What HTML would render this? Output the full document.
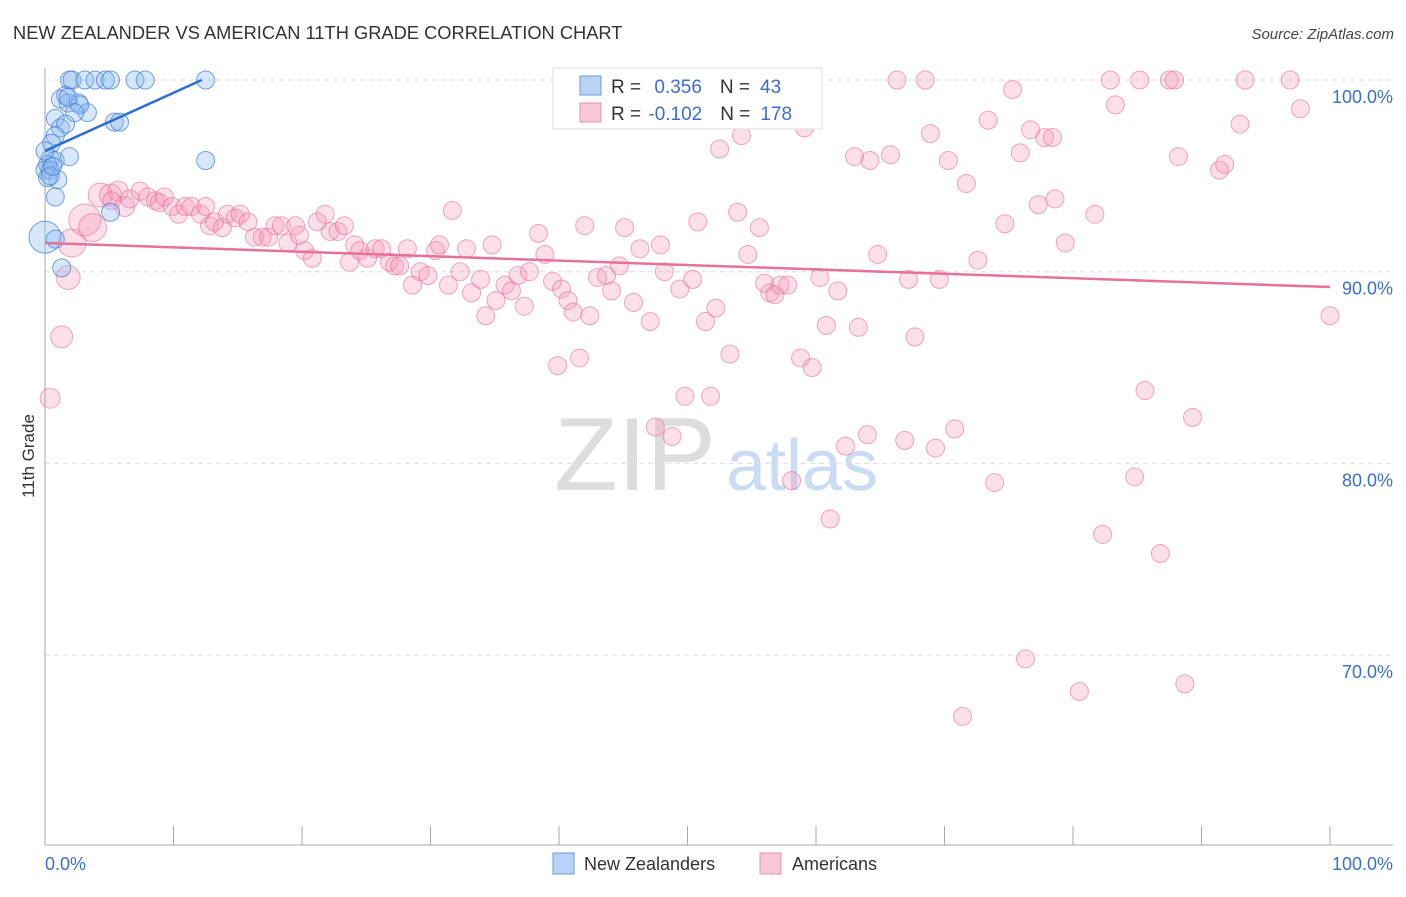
<!DOCTYPE html>
<html><head><meta charset="utf-8">
<style>
body{margin:0;background:#fff;font-family:"Liberation Sans",sans-serif;}
svg text{font-family:"Liberation Sans",sans-serif;}
</style></head>
<body>
<svg id="chart" width="1406" height="892">
<text x="13" y="39" font-size="18.3" fill="#333">NEW ZEALANDER VS AMERICAN 11TH GRADE CORRELATION CHART</text>
<text x="1394" y="39" font-size="15" fill="#444" font-style="italic" text-anchor="end">Source: ZipAtlas.com</text>
<text transform="translate(34,456) rotate(-90)" font-size="17" fill="#333" text-anchor="middle">11th Grade</text>
<g>
<text x="635" y="490" font-size="104" fill="#ddd" font-family="Liberation Serif,serif" text-anchor="middle">ZIP</text>
<text x="802" y="490" font-size="72" fill="#c9dcf3" text-anchor="middle">atlas</text>
</g>
<g id="grid"></g><g id="axes"></g><g id="pinkpts"></g><g id="bluepts"></g><g id="lines"></g>
<g>
<rect x="553" y="68" width="269" height="61" fill="#fff" stroke="#ddd"/>
<rect x="580" y="76" width="21" height="19" fill="#b8d3f5" stroke="#6a9be0"/>
<rect x="580" y="103" width="21" height="19" fill="#f9c6d5" stroke="#e890aa"/>
<text x="611" y="93" font-size="19" fill="#333">R = <tspan fill="#3a6fd0" dx="8">0.356</tspan><tspan dx="18">N =</tspan><tspan fill="#3a6fd0" dx="10">43</tspan></text>
<text x="611" y="120" font-size="19" fill="#333">R = <tspan fill="#3a6fd0" dx="2">-0.102</tspan><tspan dx="18">N =</tspan><tspan fill="#3a6fd0" dx="10">178</tspan></text>
</g>
<g>
<rect x="553" y="853" width="21" height="21" fill="#b8d3f5" stroke="#6a9be0"/>
<text x="584" y="870" font-size="18" fill="#333">New Zealanders</text>
<rect x="760" y="853" width="21" height="21" fill="#f9c6d5" stroke="#e890aa"/>
<text x="792" y="870" font-size="18" fill="#333">Americans</text>
</g>
</svg>
<script>
const yTicks=[100,90,80,70];
const yTickLabels=["100.0%","90.0%","80.0%","70.0%"];
const xTicks=[0,10,20,30,40,50,60,70,80,90,100];
const blueX=[1.9,2.1,3.1,3.9,4.7,5.1,7.0,7.8,12.5,1.6,1.2,1.8,2.6,0.8,3.3,5.4,5.8,1.2,1.6,0.8,0.5,0.4,0.8,0.2,0,0.4,1.9,1.0,0.2,0.8,5.1,0,0.8,1.3,12.5,2.7,1.8,2.3,0,0.4,0.6];
const blueY=[100,100,100,100,100,100,100,100,100,99.2,99.0,98.8,98.8,98.0,98.3,97.8,97.8,97.5,97.7,97.1,96.7,95.9,95.8,95.6,95.3,95.3,96.0,94.8,94.9,93.9,93.1,91.8,91.7,90.2,95.8,98.7,99.1,98.3,96.3,95.0,95.5];
const blueR=[9,9,9,9,9,9,9,9,9,9,9,9,9,9,9,9,9,9,9,9,9,9,9,9,9,9,9,9,9,9,9,16,9,9,9,9,9,9,9,9,9];
const pinkX=[0.4,1.3,1.8,2.1,3.1,3.7,4.3,5.1,5.7,6.2,5.2,6.6,7.4,8.0,8.6,8.9,9.3,9.9,10.4,10.9,11.4,12.1,12.5,12.8,13.2,13.8,14.2,14.8,15.2,15.8,16.3,16.9,17.4,17.9,18.4,18.9,19.5,19.8,20.2,20.8,21.2,21.8,22.2,22.8,23.3,23.7,24.1,24.5,25.1,25.7,26.2,26.8,27.2,27.6,28.2,28.6,29.2,29.8,30.4,30.7,31.4,31.7,32.3,32.8,33.2,33.9,34.3,34.8,35.1,35.8,36.3,36.8,37.3,37.7,38.4,38.9,39.5,39.9,40.2,40.7,41.1,41.6,42.0,42.4,43.0,43.7,44.1,44.7,45.1,45.8,46.3,47.1,47.5,47.9,48.2,48.8,49.4,49.8,50.4,50.8,51.4,51.8,52.2,52.5,53.3,53.9,54.2,54.7,55.6,56.0,56.4,56.8,57.2,57.8,58.1,58.8,59.1,59.7,60.3,60.8,61.1,61.7,62.3,63.0,63.3,64.0,64.2,64.8,65.8,66.3,66.9,67.2,67.7,68.5,68.9,69.3,69.6,70.3,70.8,71.4,71.7,72.6,73.4,73.9,74.7,75.3,75.9,76.3,76.7,77.3,77.8,78.4,78.6,79.4,80.5,81.7,82.3,82.9,83.3,84.8,85.2,85.6,86.8,87.5,87.9,88.2,88.7,89.3,91.4,91.8,93.0,93.4,96.9,97.7,100];
const pinkY=[83.4,86.6,89.7,91.5,92.7,92.3,94.0,94.0,94.2,93.4,93.7,93.8,94.2,93.9,93.7,93.6,93.9,93.4,93.0,93.4,93.4,93.0,93.4,92.4,92.6,92.3,93.0,92.8,93.0,92.6,91.8,91.8,91.8,92.4,92.4,91.5,92.4,91.9,91.1,90.7,92.6,93.0,92.1,92.1,92.4,90.5,91.4,91.1,90.7,91.2,91.2,90.5,90.3,90.3,91.2,89.3,90.0,89.8,91.1,91.4,89.3,93.2,90.0,91.2,88.9,89.6,87.7,91.4,88.5,89.3,89.0,89.8,88.2,90.0,92.0,90.9,89.5,85.1,89.1,88.5,87.9,85.5,92.4,87.7,89.7,89.8,89.0,90.3,92.3,88.4,91.2,87.4,81.9,91.4,90.0,81.4,89.1,83.5,89.6,92.6,87.4,83.5,88.1,96.4,85.7,93.1,97.1,90.9,92.3,89.4,88.9,88.8,89.3,89.3,79.1,85.5,97.5,85.0,89.7,87.2,77.1,89.0,80.9,96.0,87.1,81.5,95.8,90.9,96.1,100,81.2,89.6,86.6,100,97.2,80.8,89.6,95.8,81.8,66.8,94.6,90.6,97.9,79.0,92.5,99.5,96.2,69.8,97.4,93.5,97.0,97.0,93.8,91.5,68.1,93.0,76.3,100,98.7,79.3,100,83.8,75.3,100,100,96.0,68.5,82.4,95.3,95.6,97.7,100,100,98.5,87.7];
const pinkBig={0:10,1:11,2:12,3:14,4:16,5:14,6:12,7:11,8:10,9:10};
const blueTrend=[96.3,12.2,100];
const pinkTrend=[91.5,100,89.2];

const X0=45,X1=1330,Y100=80,PX10=191.7;
const sx=v=>X0+(X1-X0)*v/100;
const sy=v=>Y100+(100-v)*PX10/10;
const NS="http://www.w3.org/2000/svg";
function mk(tag,attrs,parent){const e=document.createElementNS(NS,tag);for(const k in attrs)e.setAttribute(k,attrs[k]);parent.appendChild(e);return e;}
const grid=document.getElementById('grid'),axes=document.getElementById('axes');
yTicks.forEach((t,i)=>{
  const l=mk('line',{x1:X0,x2:1393,y1:sy(t),y2:sy(t),stroke:'#ddd','stroke-dasharray':'5,4'},grid);
  
  
  const tx=mk('text',{x:1393,y:sy(t)+23,'font-size':18,fill:'#3a6fd0','text-anchor':'end'},axes);
  tx.textContent=yTickLabels[i];
  
  
});
const ya=mk('line',{x1:X0,x2:X0,y1:68,y2:845,stroke:'#aaa'},axes);


const xa=mk('line',{x1:X0,x2:1393,y1:845,y2:845,stroke:'#aaa'},axes);


xTicks.forEach(t=>{
  const l=mk('line',{x1:sx(t),x2:sx(t),y1:826,y2:845,stroke:'#aaa'},axes);
  
  
});
const xl0=mk('text',{x:45,y:870,'font-size':18,fill:'#3a6fd0'},axes);xl0.textContent='0.0%';


const xl1=mk('text',{x:1393,y:870,'font-size':18,fill:'#3a6fd0','text-anchor':'end'},axes);xl1.textContent='100.0%';


const pg=document.getElementById('pinkpts');
pinkX.forEach((x,i)=>{
  const c=mk('circle',{cx:sx(x),cy:sy(pinkY[i]),r:pinkBig[i]||9,fill:'rgba(244,150,180,0.3)',stroke:'rgba(228,110,150,0.6)','stroke-width':1},pg);
  
  
});
const bg=document.getElementById('bluepts');
blueX.forEach((x,i)=>{
  const c=mk('circle',{cx:sx(x),cy:sy(blueY[i]),r:blueR[i],fill:'rgba(140,185,240,0.35)',stroke:'rgba(60,120,215,0.7)','stroke-width':1},bg);
  
  
});
const lg=document.getElementById('lines');
const bl=mk('line',{x1:sx(0),y1:sy(blueTrend[0]),x2:sx(blueTrend[1]),y2:sy(blueTrend[2]),stroke:'#2a6fd6','stroke-width':2.5},lg);


const pl=mk('line',{x1:sx(0),y1:sy(pinkTrend[0]),x2:sx(pinkTrend[1]),y2:sy(pinkTrend[2]),stroke:'#e8709a','stroke-width':2.5},lg);


</script>
</body></html>
